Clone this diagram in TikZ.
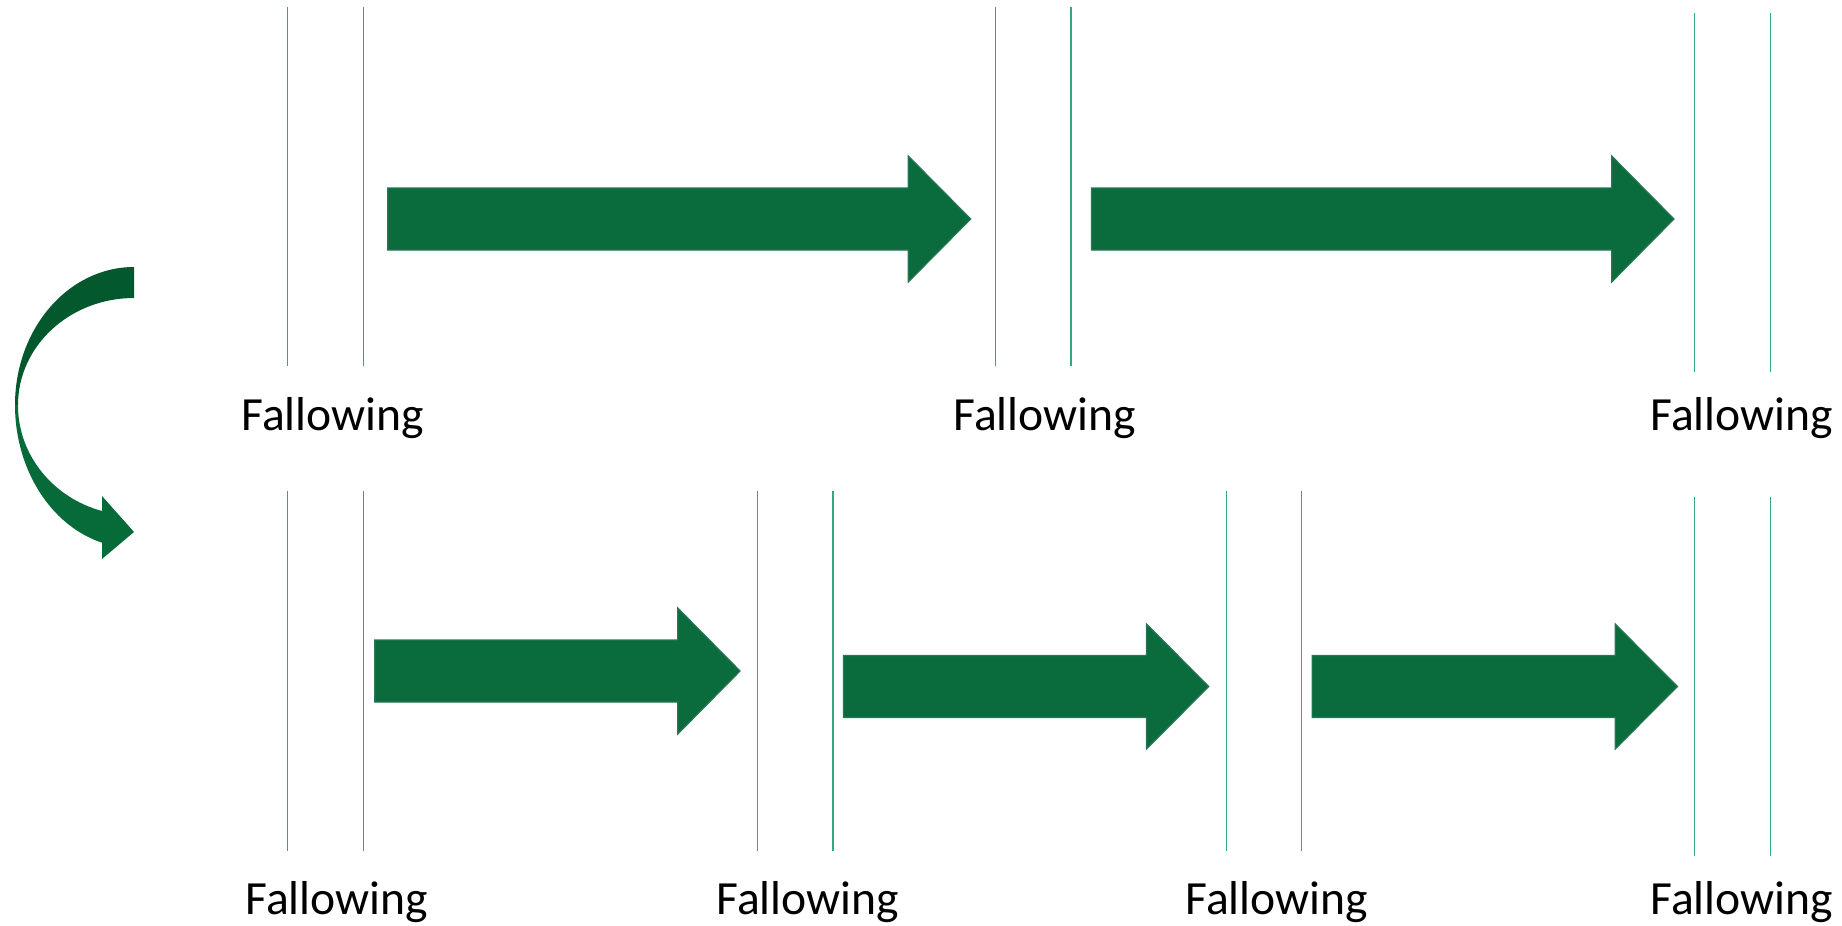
\documentclass[tikz,border=0pt]{standalone}
\usepackage{fontspec}
\setmainfont{Carlito}
\definecolor{arrowgreen}{RGB}{10,108,60}
\definecolor{arrowedge}{RGB}{40,118,85}
\definecolor{curvedark}{RGB}{3,88,45}
\definecolor{curvelight}{RGB}{6,106,57}
\definecolor{linegreen}{RGB}{55,165,125}

\begin{document}
\begin{tikzpicture}[x=0.5pt, y=-0.5pt,
        fence/.style={draw=linegreen, line width=0.7pt},
        blockarrow/.style={fill=arrowgreen, draw=arrowedge, line width=0.6pt},
        lbl/.style={anchor=base west, inner sep=0pt, font=\fontsize{23.8}{28}\selectfont}]
        \useasboundingbox (0,0) rectangle (1842,926);

        % Top row
        % Define the nodes
        \node[lbl] (t1) at (241,430) {Fallowing};
        \node[lbl] (t2) at (953,430) {Fallowing};
        \node[lbl] (t3) at (1650,430) {Fallowing};
        % Fences
        \draw[fence] (287.7,7) -- (287.7,366);
        \draw[fence] (363.3,7) -- (363.3,366);
        \draw[fence] (995.5,7) -- (995.5,366);
        \draw[fence] (1071,7) -- (1071,366);
        \draw[fence] (1694.5,13) -- (1694.5,372);
        \draw[fence] (1770.5,13) -- (1770.5,372);
        % Arrows
        \filldraw[blockarrow] (387.7,188) -- (908.3,188) -- (908.3,156) -- (970.7,219)
            -- (908.3,282) -- (908.3,250) -- (387.7,250) -- cycle;
        \filldraw[blockarrow] (1091.5,188) -- (1611.7,188) -- (1611.7,156) -- (1674,219)
            -- (1611.7,282) -- (1611.7,250) -- (1091.5,250) -- cycle;

        % Turn to the next row
        \fill[curvedark] (134,267) arc[start angle=270, end angle=180, x radius=119, y radius=138]
            -- (18,405) arc[start angle=180, end angle=270, x radius=116, y radius=107] -- cycle;
        \fill[curvelight] (15,405) arc[start angle=180, end angle=105.6, x radius=119, y radius=143]
            -- (102,559) -- (134,532) -- (102,496) -- (102,511)
            arc[start angle=106, end angle=180, x radius=116, y radius=110] -- cycle;

        % Bottom row
        % Define the nodes
        \node[lbl] (b1) at (245,914.3) {Fallowing};
        \node[lbl] (b2) at (716,914.3) {Fallowing};
        \node[lbl] (b3) at (1185,914.3) {Fallowing};
        \node[lbl] (b4) at (1650,914.3) {Fallowing};
        % Fences
        \draw[fence] (287.7,491) -- (287.7,851);
        \draw[fence] (363.3,491) -- (363.3,851);
        \draw[fence] (757.7,491) -- (757.7,851);
        \draw[fence] (832.9,491) -- (832.9,851);
        \draw[fence] (1226.4,491) -- (1226.4,851);
        \draw[fence] (1301.6,491) -- (1301.6,851);
        \draw[fence] (1694.5,497) -- (1694.5,856);
        \draw[fence] (1770.5,497) -- (1770.5,856);
        % Arrows
        \filldraw[blockarrow] (374.7,640) -- (677.8,640) -- (677.8,608) -- (740.1,671)
            -- (677.8,734) -- (677.8,702) -- (374.7,702) -- cycle;
        \filldraw[blockarrow] (843.4,655.5) -- (1146.5,655.5) -- (1146.5,624) -- (1208.8,686.5)
            -- (1146.5,749) -- (1146.5,717.5) -- (843.4,717.5) -- cycle;
        \filldraw[blockarrow] (1312.1,655.5) -- (1615.2,655.5) -- (1615.2,624) -- (1677.5,686.5)
            -- (1615.2,749) -- (1615.2,717.5) -- (1312.1,717.5) -- cycle;
    \end{tikzpicture}
\end{document}
